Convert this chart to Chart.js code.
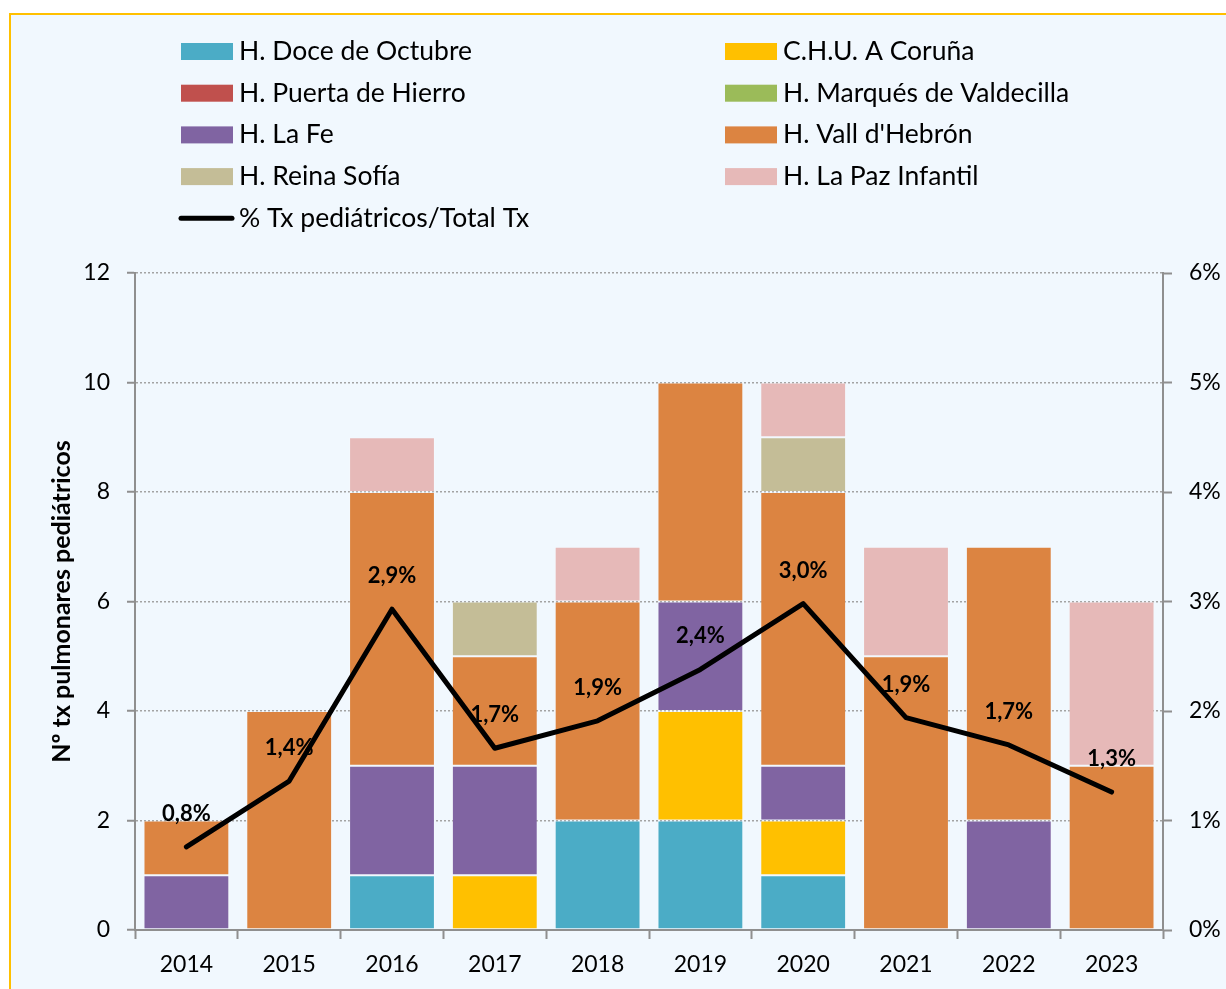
<!DOCTYPE html>
<html>
<head>
<meta charset="utf-8">
<script src="https://cdn.jsdelivr.net/npm/chart.js@4.4.0/dist/chart.umd.min.js"></script>
<style>
  html, body { margin: 0; padding: 0; background: #ffffff; }
  #marco {
    position: absolute; left: 9px; top: 13px; width: 1240px; height: 1000px;
    border-left: 2px solid #ffc000; border-top: 2px solid #ffc000;
    background: #f1f8fe;
  }
  #grafico { position: absolute; left: 0; top: 0; }
</style>
</head>
<body>
<div id="marco"></div>
<canvas id="grafico" width="1226" height="989"></canvas>
<script>
const anios = ['2014', '2015', '2016', '2017', '2018', '2019', '2020', '2021', '2022', '2023'];

const doceOctubre  = [0, 0, 1, 0, 2, 2, 1, 0, 0, 0];
const chuCoruna    = [0, 0, 0, 1, 0, 2, 1, 0, 0, 0];
const puertaHierro = [0, 0, 0, 0, 0, 0, 0, 0, 0, 0];
const valdecilla   = [0, 0, 0, 0, 0, 0, 0, 0, 0, 0];
const laFe         = [1, 0, 2, 2, 0, 2, 1, 0, 2, 0];
const vallHebron   = [1, 4, 5, 2, 4, 4, 5, 5, 5, 3];
const reinaSofia   = [0, 0, 0, 1, 0, 0, 1, 0, 0, 0];
const laPazInfantil = [0, 0, 1, 0, 1, 0, 1, 2, 0, 3];

// % Tx pediátricos / Total Tx
const pctPediatricos = [0.76, 1.36, 2.93, 1.66, 1.91, 2.38, 2.98, 1.94, 1.69, 1.26];

const FUENTE = 'Lato';
Chart.defaults.font.family = FUENTE;
Chart.defaults.font.size = 23;
Chart.defaults.color = '#000000';

const barra = (label, data, color) => ({
  type: 'bar',
  label: label,
  data: data,
  backgroundColor: color,
  borderColor: 'rgba(255,255,255,0.2)',
  borderWidth: 1,
  borderSkipped: false,
  yAxisID: 'y',
  order: 1,
  barPercentage: 0.835,
  categoryPercentage: 1
});

// leyenda en dos columnas
const leyendaDosColumnas = {
  id: 'leyendaDosColumnas',
  afterDraw(chart) {
    const ctx = chart.ctx;
    ctx.save();
    ctx.font = '26.5px ' + FUENTE;
    ctx.textBaseline = 'middle';
    ctx.textAlign = 'left';
    chart.data.datasets.forEach((ds, i) => {
      const x = (i % 2) ? 725 : 181;
      const y = 51.5 + Math.floor(i / 2) * 41.7;
      if (ds.type === 'line') {
        ctx.strokeStyle = ds.borderColor;
        ctx.lineWidth = 5;
        ctx.lineCap = 'round';
        ctx.beginPath();
        ctx.moveTo(x, y);
        ctx.lineTo(x + 51, y);
        ctx.stroke();
      } else {
        ctx.fillStyle = ds.backgroundColor;
        ctx.fillRect(x, y - 8.5, 52, 17);
      }
      ctx.fillStyle = '#000000';
      ctx.fillText(ds.label, x + 58, y);
    });
    ctx.restore();
  }
};

// etiquetas de la línea
const etiquetasLinea = {
  id: 'etiquetasLinea',
  afterDatasetsDraw(chart) {
    const ctx = chart.ctx;
    const idx = chart.data.datasets.findIndex(d => d.type === 'line');
    const meta = chart.getDatasetMeta(idx);
    ctx.save();
    ctx.font = 'bold 22px ' + FUENTE;
    ctx.textAlign = 'center';
    ctx.textBaseline = 'middle';
    ctx.fillStyle = '#000000';
    meta.data.forEach((pt, i) => {
      const v = chart.data.datasets[idx].data[i];
      ctx.fillText(v.toFixed(1).replace('.', ',') + '%', pt.x, pt.y - 33);
    });
    ctx.restore();
  }
};

const ctx = document.getElementById('grafico').getContext('2d');

new Chart(ctx, {
  data: {
    labels: anios,
    datasets: [
      barra('H. Doce de Octubre', doceOctubre, '#4bacc6'),
      barra('C.H.U. A Coruña', chuCoruna, '#ffc000'),
      barra('H. Puerta de Hierro', puertaHierro, '#c0504d'),
      barra('H. Marqués de Valdecilla', valdecilla, '#9bbb59'),
      barra('H. La Fe', laFe, '#8064a2'),
      barra("H. Vall d'Hebrón", vallHebron, '#dc8441'),
      barra('H. Reina Sofía', reinaSofia, '#c4bd97'),
      barra('H. La Paz Infantil', laPazInfantil, '#e6b9b8'),
      {
        type: 'line',
        label: '% Tx pediátricos/Total Tx',
        data: pctPediatricos,
        borderColor: '#000000',
        backgroundColor: '#000000',
        borderWidth: 5,
        borderCapStyle: 'round',
        borderJoinStyle: 'round',
        pointRadius: 0,
        tension: 0,
        yAxisID: 'y1',
        order: 0
      }
    ]
  },
  options: {
    responsive: false,
    animation: false,
    layout: {
      padding: { top: 273, left: 47, right: 0, bottom: 0 }
    },
    plugins: {
      legend: { display: false },
      tooltip: { enabled: false }
    },
    scales: {
      x: {
        stacked: true,
        afterFit: s => { s.height = 59; },
        ticks: { color: '#000000', padding: 12 },
        grid: {
          offset: true,
          drawOnChartArea: false,
          tickLength: 9,
          tickColor: '#8f8f8f',
          tickWidth: 2
        },
        border: { color: '#8f8f8f', width: 2 }
      },
      y: {
        stacked: true,
        position: 'left',
        min: 0,
        max: 12,
        afterFit: s => { s.width = 88; },
        ticks: { stepSize: 2, color: '#000000', padding: 17 },
        title: {
          display: true,
          text: 'Nº tx pulmonares pediátricos',
          color: '#000000',
          font: { size: 25, weight: 'bold' },
          padding: { top: 0, bottom: 0 }
        },
        grid: {
          color: '#a3a3a3',
          lineWidth: 1.5,
          tickLength: 8,
          tickColor: '#8f8f8f',
          tickWidth: 2,
          tickBorderDash: []
        },
        border: { color: '#8f8f8f', width: 2, dash: [2, 2] }
      },
      y1: {
        position: 'right',
        min: 0,
        max: 6,
        afterFit: s => { s.width = 63; },
        ticks: {
          stepSize: 1,
          color: '#000000',
          padding: 17,
          callback: v => v + '%'
        },
        grid: {
          drawOnChartArea: false,
          tickLength: 9,
          tickColor: '#8f8f8f',
          tickWidth: 2
        },
        border: { color: '#8f8f8f', width: 2 }
      }
    }
  },
  plugins: [leyendaDosColumnas, etiquetasLinea]
});
</script>
</body>
</html>
